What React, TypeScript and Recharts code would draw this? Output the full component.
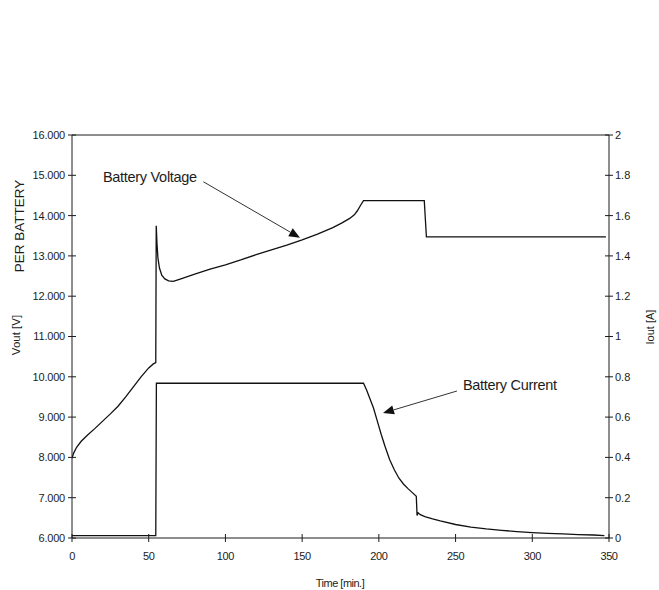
import React from 'react';
import { LineChart, Line, XAxis, YAxis, ReferenceLine, ReferenceDot } from 'recharts';

// Battery voltage (V) over time (min)
const voltageTime = [0, 1, 3, 6, 10, 15, 20, 25, 30, 35, 40, 45, 50, 53, 54.6, 54.9, 55.4, 56, 57, 58.5, 60.5, 63, 66, 70, 80, 90, 100, 110, 120, 130, 140, 150, 160, 170, 176, 181, 184, 186, 188, 190, 229.6, 231, 348];
const voltageValues = [7.98, 8.1, 8.25, 8.4, 8.55, 8.72, 8.9, 9.08, 9.27, 9.5, 9.75, 10.0, 10.22, 10.32, 10.35, 13.75, 13.3, 12.95, 12.7, 12.52, 12.43, 12.38, 12.37, 12.42, 12.55, 12.67, 12.78, 12.9, 13.03, 13.15, 13.27, 13.4, 13.54, 13.7, 13.82, 13.93, 14.02, 14.12, 14.25, 14.37, 14.37, 13.47, 13.47];

// Battery current (A) over time (min)
const currentTime = [0, 54.6, 55.0, 190, 192, 194, 196.5, 199, 201.5, 204, 207, 210, 213, 216, 219, 222, 224.4, 224.9, 225.6, 227, 230, 235, 240, 250, 260, 270, 280, 290, 300, 310, 320, 330, 340, 347];
const currentValues = [0.012, 0.012, 0.768, 0.768, 0.735, 0.695, 0.645, 0.58, 0.515, 0.455, 0.39, 0.34, 0.298, 0.268, 0.245, 0.224, 0.207, 0.112, 0.125, 0.116, 0.106, 0.095, 0.085, 0.067, 0.054, 0.045, 0.038, 0.032, 0.027, 0.023, 0.02, 0.017, 0.015, 0.012];

const timeTicks = [0, 50, 100, 150, 200, 250, 300, 350];
const voltageTicks = [6, 7, 8, 9, 10, 11, 12, 13, 14, 15, 16];
const currentTicks = [0, 0.2, 0.4, 0.6, 0.8, 1, 1.2, 1.4, 1.6, 1.8, 2];

// Annotations (data coordinates)
const voltageNote = { text: 'Battery Voltage', t: 20.2, v: 14.83 };
const voltageArrow = [{ t: 85.6, v: 14.84 }, { t: 148.6, v: 13.45 }];
const currentNote = { text: 'Battery Current', t: 254.8, i: 0.7345 };
const currentArrow = [{ t: 250.9, i: 0.7295 }, { t: 202.7, i: 0.62 }];

const voltageData = voltageTime.map((t, k) => ({ t, v: voltageValues[k] }));
const currentData = currentTime.map((t, k) => ({ t, i: currentValues[k] }));

const FONT = '"Liberation Sans", Arial, sans-serif';
const INK = '#1c1c1c';

const LeftTick = (props: any) => {
  const { x, y, payload } = props;
  return (
    <g>
      <line x1={x + 3} x2={x + 11} y1={y} y2={y} stroke={INK} strokeWidth={1} />
      <text x={x} y={y} dy="0.36em" textAnchor="end" fontSize={11} fontFamily={FONT} fill={INK} letterSpacing={-0.2}>
        {Number(payload.value).toFixed(3)}
      </text>
    </g>
  );
};

const RightTick = (props: any) => {
  const { x, y, payload } = props;
  return (
    <g>
      <line x1={x - 10} x2={x - 2} y1={y} y2={y} stroke={INK} strokeWidth={1} />
      <text x={x} y={y} dy="0.36em" textAnchor="start" fontSize={11} fontFamily={FONT} fill={INK}>
        {String(payload.value)}
      </text>
    </g>
  );
};

const BottomTick = (props: any) => {
  const { x, y, payload } = props;
  return (
    <g>
      <line x1={x} x2={x} y1={y - 18} y2={y - 10} stroke={INK} strokeWidth={1} />
      <text x={x} y={y} dy="0.71em" textAnchor="middle" fontSize={11} fontFamily={FONT} fill={INK} letterSpacing={-0.4}>
        {String(payload.value)}
      </text>
    </g>
  );
};

const leftLabel = () => (
  <g>
    <text x={24} y={226} transform="rotate(-90 24 226)" textAnchor="middle" fontSize={13.5} fontFamily={FONT} fill={INK}>
      PER BATTERY
    </text>
    <text x={20} y={335} transform="rotate(-90 20 335)" textAnchor="middle" fontSize={11.5} fontFamily={FONT} fill={INK}>
      Vout [V]
    </text>
  </g>
);

const rightLabel = () => (
  <text x={654} y={327} transform="rotate(-90 654 327)" textAnchor="middle" fontSize={11} fontFamily={FONT} fill={INK}>
    Iout [A]
  </text>
);

const bottomLabel = () => (
  <text x={340} y={587} textAnchor="middle" fontSize={11} fontFamily={FONT} fill={INK} letterSpacing={-0.5}>
    Time [min.]
  </text>
);

const arrowShape = (len: number, half: number) => (props: any) => {
  const { x1, y1, x2, y2 } = props;
  const dx = x2 - x1;
  const dy = y2 - y1;
  const d = Math.sqrt(dx * dx + dy * dy) || 1;
  const ux = dx / d;
  const uy = dy / d;
  const bx = x2 - ux * len;
  const by = y2 - uy * len;
  const pts = `${x2},${y2} ${bx - uy * half},${by + ux * half} ${bx + uy * half},${by - ux * half}`;
  return (
    <g>
      <line x1={x1} y1={y1} x2={bx} y2={by} stroke="#333" strokeWidth={1} />
      <polygon points={pts} fill="#111" />
    </g>
  );
};

const noteShape = (text: string) => (props: any) => (
  <text x={props.cx} y={props.cy} fontSize={14.5} fontFamily={FONT} fill={INK} letterSpacing={-0.3}>
    {text}
  </text>
);

export default function App() {
  return (
    <div style={{ position: 'absolute', left: 0, top: 0, background: '#fff' }}>
      <LineChart width={659} height={590} margin={{ top: 135, right: 0, bottom: 0, left: 0 }}>
        <XAxis
          dataKey="t"
          type="number"
          domain={[0, 350]}
          ticks={timeTicks}
          interval={0}
          height={52}
          tickSize={4}
          tickMargin={10}
          tickLine={false}
          axisLine={{ stroke: INK, strokeWidth: 1 }}
          tick={BottomTick}
          label={bottomLabel}
          allowDataOverflow
        />
        <YAxis
          yAxisId="left"
          orientation="left"
          type="number"
          domain={[6, 16]}
          ticks={voltageTicks}
          interval={0}
          width={72}
          tickSize={4}
          tickMargin={3}
          tickLine={false}
          axisLine={{ stroke: INK, strokeWidth: 1 }}
          tick={LeftTick}
          label={leftLabel}
          allowDataOverflow
        />
        <YAxis
          yAxisId="right"
          orientation="right"
          type="number"
          domain={[0, 2]}
          ticks={currentTicks}
          interval={0}
          width={50}
          tickSize={4}
          tickMargin={2}
          tickLine={false}
          axisLine={{ stroke: INK, strokeWidth: 1 }}
          tick={RightTick}
          label={rightLabel}
          allowDataOverflow
        />
        <ReferenceLine yAxisId="left" y={16} stroke={INK} strokeWidth={1} />
        <Line
          yAxisId="left"
          data={voltageData}
          dataKey="v"
          type="linear"
          stroke="#111"
          strokeWidth={1.3}
          dot={false}
          activeDot={false}
          isAnimationActive={false}
        />
        <Line
          yAxisId="right"
          data={currentData}
          dataKey="i"
          type="linear"
          stroke="#111"
          strokeWidth={1.3}
          dot={false}
          activeDot={false}
          isAnimationActive={false}
        />
        <ReferenceLine
          yAxisId="left"
          segment={[{ x: voltageArrow[0].t, y: voltageArrow[0].v }, { x: voltageArrow[1].t, y: voltageArrow[1].v }]}
          shape={arrowShape(11, 4.5)}
        />
        <ReferenceLine
          yAxisId="right"
          segment={[{ x: currentArrow[0].t, y: currentArrow[0].i }, { x: currentArrow[1].t, y: currentArrow[1].i }]}
          shape={arrowShape(11, 4.5)}
        />
        <ReferenceDot yAxisId="left" x={voltageNote.t} y={voltageNote.v} r={0} shape={noteShape(voltageNote.text)} />
        <ReferenceDot yAxisId="right" x={currentNote.t} y={currentNote.i} r={0} shape={noteShape(currentNote.text)} />
      </LineChart>
    </div>
  );
}
